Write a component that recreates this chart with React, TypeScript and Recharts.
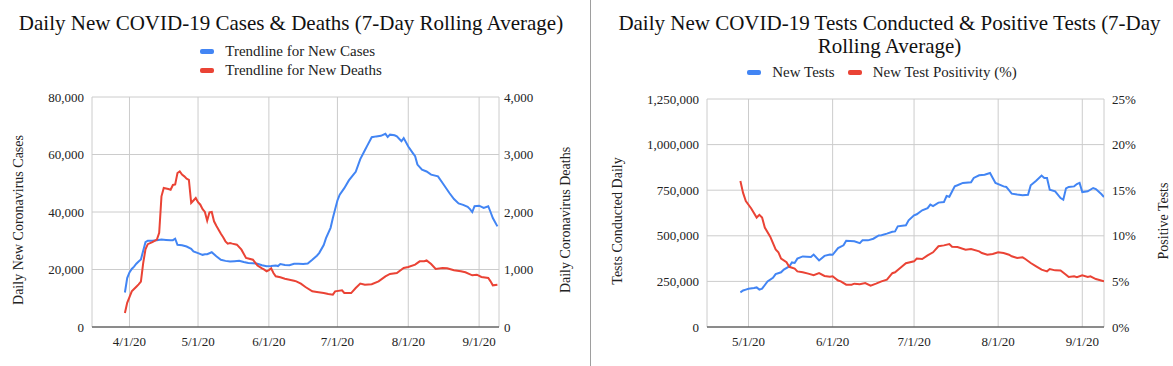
import { LineChart, Line, XAxis, YAxis, CartesianGrid, Legend, Label } from 'recharts';

const FONT = '"Liberation Serif", "Times New Roman", serif';
const BLUE = '#4285F4';
const RED = '#EA4335';

// x values are days since 4/1/20
const LEFT_TICKS = [0, 30, 61, 91, 122, 153];
const LEFT_TICK_LABELS = ['4/1/20', '5/1/20', '6/1/20', '7/1/20', '8/1/20', '9/1/20'];
const RIGHT_TICKS = [30, 61, 91, 122, 153];
const RIGHT_TICK_LABELS = ['5/1/20', '6/1/20', '7/1/20', '8/1/20', '9/1/20'];

const CASE_DAYS = [-2, -1, 0, 1, 2, 3, 4, 5, 6, 7, 8, 10, 12, 14, 16, 18, 19, 20, 21, 23, 25, 27, 28, 30, 32, 33, 34, 36, 38, 40, 42, 44, 46, 48, 50, 52, 54, 56, 58, 60, 62, 64, 65, 66, 68, 70, 72, 74, 76, 78, 80, 82, 83, 85, 86, 88, 89, 90, 91, 92, 94, 96, 98, 99, 101, 103, 104, 106, 108, 110, 112, 113, 114, 116, 117, 119, 120, 122, 124, 125, 126, 128, 130, 132, 135, 137, 140, 142, 144, 146, 148, 149, 150, 151, 153, 155, 157, 158, 159, 161];
const CASES = [12000, 17000, 19000, 20200, 21000, 22000, 22800, 23500, 26500, 29500, 30000, 30000, 30200, 30400, 30300, 30200, 30200, 30700, 28600, 28400, 28000, 27200, 26300, 25700, 25100, 25300, 25300, 26000, 24600, 23400, 23000, 22800, 22900, 23000, 22600, 22300, 22200, 22000, 21500, 21100, 21200, 21400, 21200, 21900, 21600, 21500, 22000, 22000, 21900, 22100, 23400, 24800, 25700, 28500, 30900, 34500, 37900, 41000, 44000, 46000, 48300, 51000, 53000, 54000, 58400, 61500, 63000, 66000, 66300, 66500, 67200, 66100, 66900, 66700, 66300, 64600, 65700, 62800, 60500, 59400, 56500, 54700, 54100, 53000, 52400, 50100, 46600, 44500, 43000, 42500, 41800, 41000, 40000, 42000, 42200, 41400, 42000, 40000, 37900, 35000];

const DEATH_DAYS = [-2, -1, 0, 1, 2, 3, 4, 5, 6, 7, 8, 10, 12, 13, 14, 15, 17, 18, 19, 20, 21, 22, 23, 24, 25, 26, 27, 28, 29, 30, 31, 32, 33, 34, 35, 36, 37, 38, 39, 40, 41, 42, 43, 44, 45, 47, 49, 51, 52, 54, 56, 58, 59, 60, 61, 62, 63, 64, 66, 68, 70, 72, 73, 75, 77, 80, 82, 85, 87, 89, 90, 93, 94, 97, 99, 101, 103, 106, 109, 112, 114, 117, 120, 122, 125, 127, 129, 130, 132, 134, 137, 139, 142, 145, 147, 150, 152, 154, 157, 158, 159, 161];
const DEATHS = [243, 420, 520, 620, 660, 700, 740, 790, 1110, 1350, 1440, 1475, 1520, 1640, 2272, 2417, 2400, 2388, 2470, 2480, 2678, 2707, 2650, 2620, 2580, 2560, 2157, 2200, 2243, 2170, 2127, 2050, 2000, 1849, 1994, 2000, 1838, 1760, 1693, 1620, 1560, 1490, 1449, 1460, 1450, 1432, 1345, 1200, 1190, 1171, 1070, 1020, 997, 968, 990, 1020, 940, 881, 864, 840, 823, 805, 794, 754, 696, 620, 609, 591, 575, 562, 620, 638, 591, 590, 678, 754, 736, 745, 794, 881, 922, 939, 1026, 1043, 1084, 1142, 1145, 1159, 1096, 1009, 1026, 1020, 986, 968, 951, 899, 910, 870, 852, 794, 725, 736];

const TEST_DAYS = [27, 28, 29, 30, 32, 33, 34, 35, 37, 39, 40, 42, 43, 45, 46, 47, 48, 50, 53, 54, 56, 58, 60, 61, 63, 65, 66, 69, 71, 72, 74, 76, 78, 79, 81, 83, 84, 85, 88, 89, 91, 92, 94, 96, 97, 98, 100, 102, 103, 104, 106, 107, 109, 112, 113, 115, 117, 119, 120, 121, 124, 125, 127, 129, 131, 133, 134, 136, 138, 139, 140, 141, 143, 145, 146, 147, 148, 150, 151, 152, 153, 155, 157, 158, 160, 161];
const TESTS = [190000, 200000, 205000, 210000, 214000, 217000, 205000, 210000, 250000, 270000, 290000, 300000, 315000, 332000, 354000, 351000, 375000, 387000, 384000, 397000, 365000, 390000, 397000, 396000, 433000, 448000, 473000, 470000, 460000, 475000, 475000, 484000, 502000, 503000, 512000, 522000, 524000, 552000, 558000, 585000, 612000, 618000, 640000, 652000, 671000, 663000, 682000, 685000, 718000, 714000, 771000, 777000, 790000, 793000, 817000, 832000, 835000, 844000, 817000, 790000, 771000, 768000, 731000, 726000, 722000, 725000, 777000, 802000, 830000, 817000, 817000, 753000, 744000, 707000, 698000, 760000, 768000, 771000, 784000, 790000, 740000, 744000, 762000, 756000, 729000, 713000];

const POS_DAYS = [27, 28, 29, 31, 33, 34, 35, 36, 38, 40, 41, 42, 44, 45, 47, 48, 50, 52, 54, 56, 58, 60, 61, 63, 64, 66, 68, 69, 71, 73, 75, 77, 79, 81, 83, 84, 86, 88, 91, 92, 94, 96, 98, 100, 102, 104, 105, 107, 110, 112, 115, 116, 118, 120, 122, 124, 126, 127, 129, 131, 132, 134, 136, 138, 140, 141, 143, 145, 147, 148, 150, 151, 153, 155, 156, 158, 161];
const POSITIVITY = [16.0, 14.7, 13.8, 13.0, 12.0, 12.3, 12.0, 10.9, 9.9, 8.5, 8.2, 7.5, 7.1, 6.6, 6.4, 6.1, 6.0, 5.85, 5.67, 5.9, 5.6, 5.5, 5.56, 5.1, 5.0, 4.64, 4.64, 4.75, 4.7, 4.82, 4.53, 4.75, 5.0, 5.2, 5.9, 6.0, 6.5, 7.0, 7.2, 7.5, 7.46, 7.86, 8.19, 8.85, 8.95, 9.1, 8.8, 8.77, 8.48, 8.55, 8.3, 8.11, 7.93, 8.0, 8.19, 8.11, 7.93, 7.75, 7.57, 7.64, 7.46, 7.02, 6.65, 6.29, 6.1, 6.36, 6.21, 6.2, 5.74, 5.48, 5.56, 5.45, 5.67, 5.48, 5.56, 5.26, 5.0];

const LEFT_SERIES = ['Trendline for New Cases', 'Trendline for New Deaths'];
const RIGHT_SERIES = ['New Tests', 'New Test Positivity (%)'];

type Row = { day: number; [k: string]: number };

function merge(a: { key: string; days: number[]; vals: number[] }[]) {
  const rows = new Map<number, Row>();
  for (const s of a) {
    s.days.forEach((d, i) => {
      const r = rows.get(d) ?? { day: d };
      r[s.key] = s.vals[i];
      rows.set(d, r);
    });
  }
  return [...rows.values()].sort((x, y) => x.day - y.day);
}

const leftData = merge([
  { key: 'cases', days: CASE_DAYS, vals: CASES },
  { key: 'deaths', days: DEATH_DAYS, vals: DEATHS },
]);
const rightData = merge([
  { key: 'tests', days: TEST_DAYS, vals: TESTS },
  { key: 'positivity', days: POS_DAYS, vals: POSITIVITY },
]);

const tickStyle = { fontSize: 13, fill: '#222', fontFamily: FONT };
const fmt = (v: number) => v.toLocaleString('en-US');

function axisTitle(text: string, dx: number) {
  return (props: any) => {
    const vb = props.viewBox;
    const cx = vb.x + dx;
    const cy = vb.y + vb.height / 2 + 8;
    return (
      <text x={cx} y={cy} transform={`rotate(-90 ${cx} ${cy})`} textAnchor="middle" dominantBaseline="central"
        style={{ fontSize: 14, fill: '#222', fontFamily: FONT }}>
        {text}
      </text>
    );
  };
}

function legendContent(vertical: boolean, order: string[]) {
  return (props: any) => {
    const items = [...(props.payload ?? [])].sort((a: any, b: any) => order.indexOf(a.value) - order.indexOf(b.value));
    return (
      <div style={{ display: 'flex', flexDirection: vertical ? 'column' : 'row', alignItems: vertical ? 'flex-start' : 'center', justifyContent: 'center', width: 'fit-content', margin: '0 auto', gap: vertical ? 2 : 13, fontFamily: FONT, fontSize: 15, color: '#222' }}>
        {items.map((p: any) => (
          <div key={p.value} style={{ display: 'flex', alignItems: 'center', height: 17 }}>
            <span style={{ display: 'inline-block', width: 14, height: 5, borderRadius: 2, background: p.color, marginRight: 11 }} />
            {p.value}
          </div>
        ))}
      </div>
    );
  };
}

const titleStyle = { position: 'absolute' as const, fontFamily: FONT, fontSize: 21, color: '#111', textAlign: 'center' as const, lineHeight: '23px' };

export default function App() {
  return (
    <div style={{ position: 'absolute', left: 0, top: 0, width: 1173, height: 366, background: '#fff' }}>
      <div style={{ ...titleStyle, left: 0, top: 12, width: 582 }}>Daily New COVID-19 Cases &amp; Deaths (7-Day Rolling Average)</div>
      <div style={{ ...titleStyle, left: 606, top: 12, width: 567 }}>Daily New COVID-19 Tests Conducted &amp; Positive Tests (7-Day Rolling Average)</div>
      <div style={{ position: 'absolute', left: 590, top: 0, width: 1, height: 366, background: '#9e9e9e' }} />

      <div style={{ position: 'absolute', left: 0, top: 0 }}>
        <LineChart width={591} height={366} data={leftData} margin={{ top: 97, right: 0, bottom: 0, left: 0 }}>
          <CartesianGrid stroke="#ccc" yAxisId="cases" />
          <XAxis dataKey="day" type="number" domain={[-16.4, 161.7]} ticks={LEFT_TICKS} allowDataOverflow height={39}
            tickFormatter={(v: number) => LEFT_TICK_LABELS[LEFT_TICKS.indexOf(v)]} tick={tickStyle}
            axisLine={{ stroke: '#333' }} tickLine={false} tickSize={0} tickMargin={10} />
          <YAxis yAxisId="cases" width={92} domain={[0, 80000]} ticks={[0, 20000, 40000, 60000, 80000]} tickFormatter={fmt}
            tick={tickStyle} axisLine={false} tickLine={false} tickSize={0} tickMargin={8}>
            <Label content={axisTitle('Daily New Coronavirus Cases', 18)} />
          </YAxis>
          <YAxis yAxisId="deaths" orientation="right" width={92} domain={[0, 4000]} ticks={[0, 1000, 2000, 3000, 4000]} tickFormatter={fmt}
            tick={tickStyle} axisLine={false} tickLine={false} tickSize={0} tickMargin={5}>
            <Label content={axisTitle('Daily Coronavirus Deaths', 66)} />
          </YAxis>
          <Legend verticalAlign="middle" align="center" layout="vertical" content={legendContent(true, LEFT_SERIES)}
            wrapperStyle={{ top: 43, left: 0, width: 582 }} />
          <Line yAxisId="cases" dataKey="cases" name={LEFT_SERIES[0]} stroke={BLUE} strokeWidth={2} dot={false} connectNulls isAnimationActive={false} />
          <Line yAxisId="deaths" dataKey="deaths" name={LEFT_SERIES[1]} stroke={RED} strokeWidth={2} dot={false} connectNulls isAnimationActive={false} />
        </LineChart>
      </div>

      <div style={{ position: 'absolute', left: 591, top: 0 }}>
        <LineChart width={582} height={366} data={rightData} margin={{ top: 99, right: 0, bottom: 0, left: 0 }}>
          <CartesianGrid stroke="#ccc" yAxisId="tests" />
          <XAxis dataKey="day" type="number" domain={[14.7, 161]} ticks={RIGHT_TICKS} allowDataOverflow height={39}
            tickFormatter={(v: number) => RIGHT_TICK_LABELS[RIGHT_TICKS.indexOf(v)]} tick={tickStyle}
            axisLine={{ stroke: '#333' }} tickLine={false} tickSize={0} tickMargin={10} />
          <YAxis yAxisId="tests" width={116} domain={[0, 1250000]} ticks={[0, 250000, 500000, 750000, 1000000, 1250000]} tickFormatter={fmt}
            tick={tickStyle} axisLine={false} tickLine={false} tickSize={0} tickMargin={8}>
            <Label content={axisTitle('Tests Conducted Daily', 26)} />
          </YAxis>
          <YAxis yAxisId="positivity" orientation="right" width={69} domain={[0, 25]} ticks={[0, 5, 10, 15, 20, 25]} tickFormatter={(v: number) => `${v}%`}
            tick={tickStyle} axisLine={false} tickLine={false} tickSize={0} tickMargin={8}>
            <Label content={axisTitle('Positive Tests', 59)} />
          </YAxis>
          <Legend verticalAlign="middle" align="center" layout="horizontal" content={legendContent(false, RIGHT_SERIES)}
            wrapperStyle={{ top: 64, left: 0, width: 582 }} />
          <Line yAxisId="tests" dataKey="tests" name={RIGHT_SERIES[0]} stroke={BLUE} strokeWidth={2} dot={false} connectNulls isAnimationActive={false} />
          <Line yAxisId="positivity" dataKey="positivity" name={RIGHT_SERIES[1]} stroke={RED} strokeWidth={2} dot={false} connectNulls isAnimationActive={false} />
        </LineChart>
      </div>
    </div>
  );
}
